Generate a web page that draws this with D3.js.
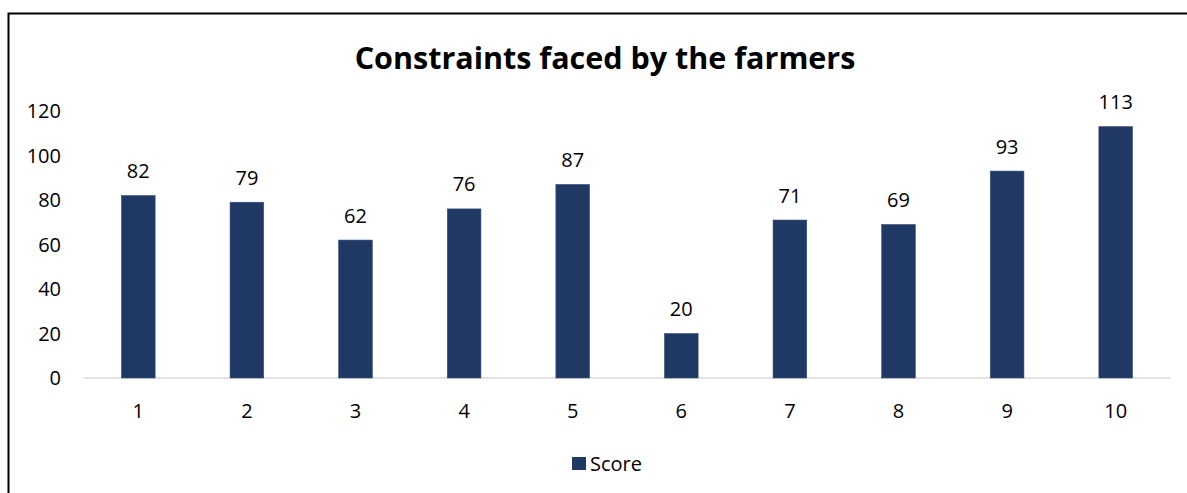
<!DOCTYPE html>
<html>
<head>
<meta charset="utf-8">
<script src="https://cdn.jsdelivr.net/npm/d3@7/dist/d3.min.js"></script>
<style>
  html, body { margin: 0; padding: 0; background: #fff; }
  svg { display: block; font-family: "Open Sans", "Noto Sans", sans-serif; }
</style>
</head>
<body>
<svg id="chart" width="1187" height="493"></svg>
<script>
// data
const categories = ["1", "2", "3", "4", "5", "6", "7", "8", "9", "10"];
const scores = [82, 79, 62, 76, 87, 20, 71, 69, 93, 113];
const yTicks = [0, 20, 40, 60, 80, 100, 120];
const seriesName = "Score";

const svg = d3.select("#chart");
const barColor = "#203864";
const fs = 20;

// frame (only top and left edges fall inside the picture)
svg.append("rect")
    .attr("x", 8.5).attr("y", 13.5)
    .attr("width", 1200).attr("height", 500)
    .attr("fill", "none").attr("stroke", "#000").attr("stroke-width", 2);

const x = d3.scaleBand().domain(categories).range([84, 1170]).padding(0);
const y = d3.scaleLinear().domain([0, 120]).range([378, 111]);
const barW = x.bandwidth() * 0.31;

svg.append("text")
    .attr("x", 605).attr("y", 69)
    .attr("text-anchor", "middle")
    .attr("font-size", 30.5).attr("font-weight", "bold")
    .text("Constraints faced by the farmers");

// y axis labels
svg.append("g").selectAll("text")
    .data(yTicks).enter().append("text")
    .attr("x", 61).attr("y", d => y(d))
    .attr("dy", "0.36em")
    .attr("text-anchor", "end")
    .attr("font-size", fs).attr("fill", "#000")
    .text(d => d);

// baseline
svg.append("line")
    .attr("x1", 84).attr("x2", 1170)
    .attr("y1", y(0)).attr("y2", y(0))
    .attr("stroke", "#d9d9d9").attr("stroke-width", 1.5);

const g = svg.append("g");
g.selectAll("rect")
    .data(scores).enter().append("rect")
    .attr("x", (d, i) => x(categories[i]) + (x.bandwidth() - barW) / 2)
    .attr("y", d => y(d))
    .attr("width", barW)
    .attr("height", d => y(0) - y(d))
    .attr("fill", barColor)
    .attr("stroke", "#3a5080").attr("stroke-width", 0.6);

g.selectAll("text.val")
    .data(scores).enter().append("text").attr("class", "val")
    .attr("x", (d, i) => x(categories[i]) + x.bandwidth() / 2)
    .attr("y", d => y(d) - 17.5)
    .attr("text-anchor", "middle")
    .attr("font-size", fs).attr("fill", "#000")
    .text(d => d);

// x labels
svg.append("g").selectAll("text")
    .data(categories).enter().append("text")
    .attr("x", d => x(d) + x.bandwidth() / 2)
    .attr("y", 417.5)
    .attr("text-anchor", "middle")
    .attr("font-size", fs).attr("fill", "#000")
    .text(d => d);

// legend
const legend = svg.append("g");
legend.append("rect")
    .attr("x", 572).attr("y", 457)
    .attr("width", 14).attr("height", 13)
    .attr("fill", barColor);
legend.append("text")
    .attr("x", 590).attr("y", 470.5)
    .attr("font-size", fs).attr("fill", "#000")
    .text(seriesName);
</script>
</body>
</html>
